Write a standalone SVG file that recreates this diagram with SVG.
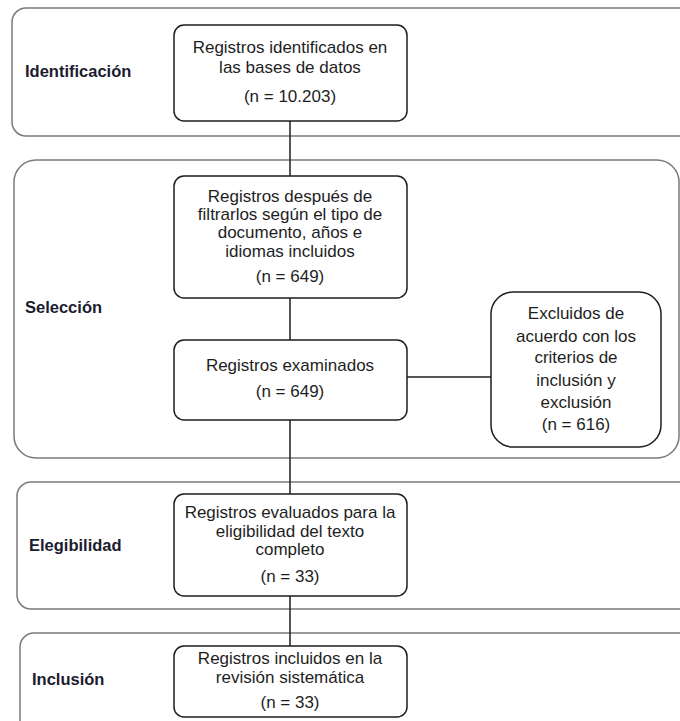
<svg xmlns="http://www.w3.org/2000/svg" width="680" height="721" viewBox="0 0 680 721">
<style>
.panel{fill:#fff;stroke:#7a7a7a;stroke-width:1.5}
.node{fill:#fff;stroke:#1e1e1e;stroke-width:1.5}
.t{font-family:"Liberation Sans",Arial,sans-serif;font-size:17px;fill:#1e1e1e;text-anchor:middle}
.lbl{font-family:"Liberation Sans",Arial,sans-serif;font-size:16.5px;font-weight:bold;fill:#1c1c30}
.c{stroke:#1e1e1e;stroke-width:1.5;fill:none}
</style>
<rect width="680" height="721" fill="#fff"/>
<g id="panel-identificacion">
<rect class="panel" x="12" y="8" width="700" height="128" rx="14"/>
<text class="lbl" x="25" y="77">Identificación</text>
</g>
<g id="panel-seleccion">
<rect class="panel" x="14" y="160" width="665" height="298" rx="22"/>
<text class="lbl" x="25" y="313">Selección</text>
</g>
<g id="panel-elegibilidad">
<rect class="panel" x="17" y="482" width="700" height="127" rx="14"/>
<text class="lbl" x="29" y="551">Elegibilidad</text>
</g>
<g id="panel-inclusion">
<rect class="panel" x="20" y="633" width="700" height="120" rx="14"/>
<text class="lbl" x="32" y="685">Inclusión</text>
</g>
<g id="connectors">
<line class="c" x1="290" y1="121" x2="290" y2="176"/>
<line class="c" x1="290" y1="298" x2="290" y2="340"/>
<line class="c" x1="290" y1="420" x2="290" y2="494"/>
<line class="c" x1="290" y1="596" x2="290" y2="646"/>
<line class="c" x1="407" y1="377" x2="491" y2="377"/>
</g>
<g id="node-identificados">
<rect class="node" x="174" y="25" width="233" height="96" rx="10"/>
<text class="t" x="290" y="53">Registros identificados en</text>
<text class="t" x="290" y="73">las bases de datos</text>
<text class="t" x="290" y="102">(n = 10.203)</text>
</g>
<g id="node-filtrados">
<rect class="node" x="174" y="176" width="233" height="122" rx="10"/>
<text class="t" x="290" y="202">Registros después de</text>
<text class="t" x="290" y="220">filtrarlos según el tipo de</text>
<text class="t" x="290" y="238">documento, años e</text>
<text class="t" x="290" y="257">idiomas incluidos</text>
<text class="t" x="290" y="282">(n = 649)</text>
</g>
<g id="node-examinados">
<rect class="node" x="174" y="340" width="233" height="80" rx="10"/>
<text class="t" x="290" y="371">Registros examinados</text>
<text class="t" x="290" y="397">(n = 649)</text>
</g>
<g id="node-excluidos">
<rect class="node" x="491" y="292" width="170" height="155" rx="22"/>
<text class="t" x="576" y="319">Excluidos de</text>
<text class="t" x="576" y="342">acuerdo con los</text>
<text class="t" x="576" y="363">criterios de</text>
<text class="t" x="576" y="386">inclusión y</text>
<text class="t" x="576" y="408">exclusión</text>
<text class="t" x="576" y="430">(n = 616)</text>
</g>
<g id="node-evaluados">
<rect class="node" x="174" y="494" width="233" height="102" rx="10"/>
<text class="t" x="290" y="518">Registros evaluados para la</text>
<text class="t" x="290" y="537">eligibilidad del texto</text>
<text class="t" x="290" y="555">completo</text>
<text class="t" x="290" y="582">(n = 33)</text>
</g>
<g id="node-incluidos">
<rect class="node" x="174" y="646" width="233" height="71" rx="10"/>
<text class="t" x="290" y="664">Registros incluidos en la</text>
<text class="t" x="290" y="683">revisión sistemática</text>
<text class="t" x="290" y="708">(n = 33)</text>
</g>
</svg>
